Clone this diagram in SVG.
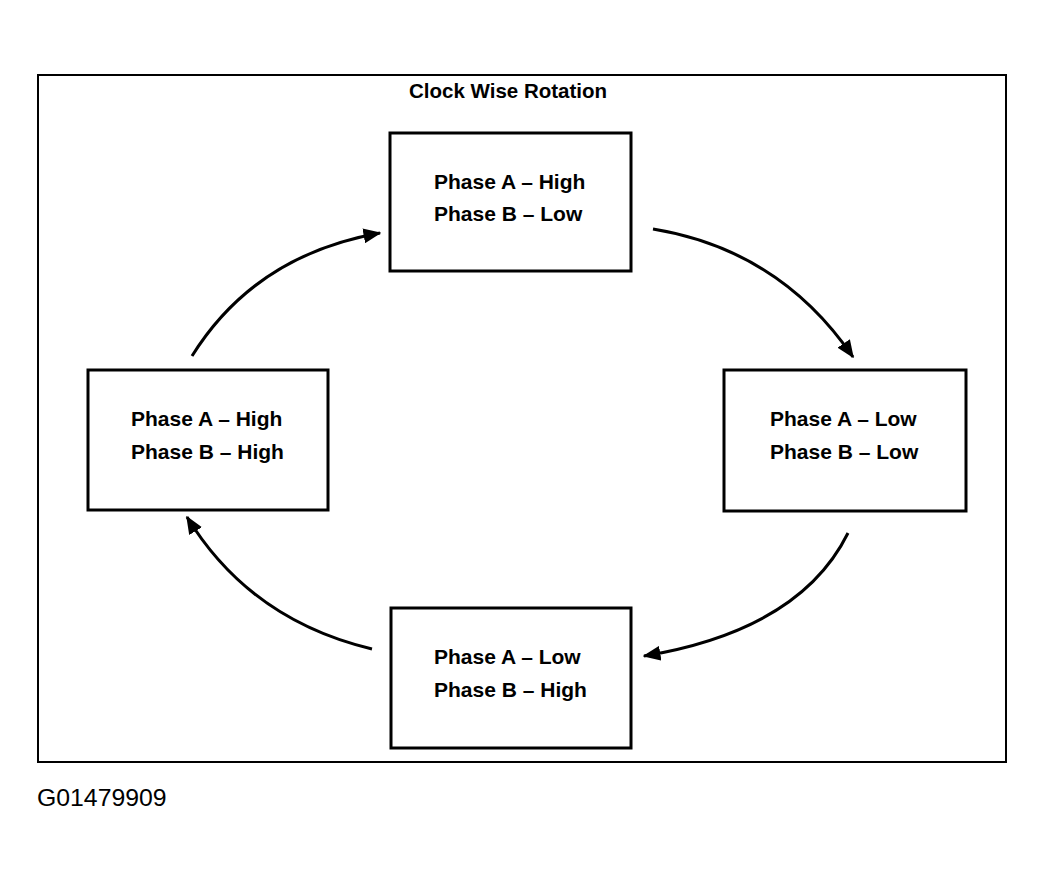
<svg xmlns="http://www.w3.org/2000/svg" width="1044" height="882" viewBox="0 0 1044 882">
<style>
.frame{fill:none;stroke:#000;stroke-width:2}
.box{fill:#fff;stroke:#000;stroke-width:3}
.t{font-family:"Liberation Sans",Arial,sans-serif;font-weight:bold;font-size:21px;fill:#000}
.ti{font-family:"Liberation Sans",Arial,sans-serif;font-weight:bold;font-size:20.5px;fill:#000}
.c{fill:none;stroke:#000;stroke-width:3;marker-end:url(#ah)}
.id{font-family:"Liberation Sans",Arial,sans-serif;font-size:24.8px;fill:#000}
</style>
<defs>
<marker id="ah" viewBox="0 0 12 10" refX="11" refY="5" markerWidth="6" markerHeight="5" markerUnits="strokeWidth" orient="auto">
<path d="M0,0 L12,5 L0,10 z" fill="#000"/>
</marker>
</defs>
<rect width="1044" height="882" fill="#fff"/>
<rect class="frame" x="38" y="75" width="968" height="687"/>
<text class="ti" x="409" y="98">Clock Wise Rotation</text>
<g id="n-top">
<rect class="box" x="390" y="133" width="241" height="138"/>
<text class="t" x="434" y="189">Phase A – High</text>
<text class="t" x="434" y="221">Phase B – Low</text>
</g>
<g id="n-right">
<rect class="box" x="724" y="370" width="242" height="141"/>
<text class="t" x="770" y="426">Phase A – Low</text>
<text class="t" x="770" y="459">Phase B – Low</text>
</g>
<g id="n-bottom">
<rect class="box" x="391" y="608" width="240" height="140"/>
<text class="t" x="434" y="664">Phase A – Low</text>
<text class="t" x="434" y="697">Phase B – High</text>
</g>
<g id="n-left">
<rect class="box" x="88" y="370" width="240" height="140"/>
<text class="t" x="131" y="426">Phase A – High</text>
<text class="t" x="131" y="459">Phase B – High</text>
</g>
<g id="connectors">
<path class="c" d="M653,229 Q780,250 853,357"/>
<path class="c" d="M848,533 Q800,630 644,656"/>
<path class="c" d="M372,649 Q250,620 187,517"/>
<path class="c" d="M192,356 Q255,255 380,233"/>
</g>
<text class="id" x="37" y="806">G01479909</text>
</svg>
